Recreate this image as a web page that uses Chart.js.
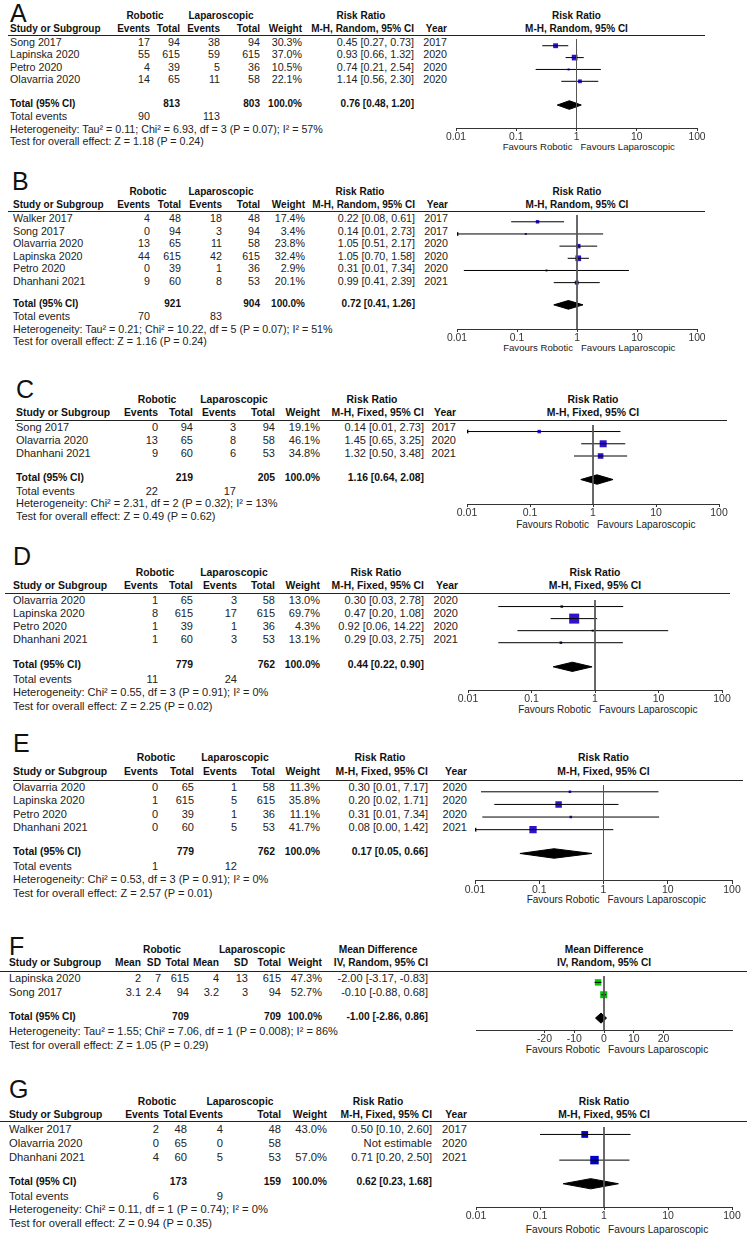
<!DOCTYPE html>
<html>
<head>
<meta charset="utf-8">
<script src="https://cdn.jsdelivr.net/npm/chart.js@4.4.1/dist/chart.umd.min.js"></script>
<style>
  html, body { margin: 0; padding: 0; background: #fff; }
  body { position: relative; width: 747px; height: 1235px; overflow: hidden; font-family: "Liberation Sans", Arial, sans-serif; color: #222; }
  .t { position: absolute; white-space: nowrap; line-height: 12px; }
  .b { font-weight: bold; color: #111; }
  .letter { position: absolute; font-size: 25px; line-height: 26px; color: #111; }
  .hl { position: absolute; height: 1px; background: #222; }
  canvas { position: absolute; }
</style>
</head>
<body>
<script>
// ---- A ----
const studiesA = ['Song 2017', 'Lapinska 2020', 'Petro 2020', 'Olavarria 2020'];
const yearsA = [2017, 2020, 2020, 2020];
const robEventsA = [17, 55, 4, 14];
const robTotalA = [94, 615, 39, 65];
const lapEventsA = [38, 59, 5, 11];
const lapTotalA = [94, 615, 36, 58];
const weightsA = [30.3, 37.0, 10.5, 22.1];
const estA = [0.45, 0.93, 0.74, 1.14];
const loA = [0.27, 0.66, 0.21, 0.56];
const hiA = [0.73, 1.32, 2.54, 2.30];
const pooledA = [0.76, 0.48, 1.20];
const sumsA = [813, 803];
const eventsA = [90, 113];
const hetA = 'Heterogeneity: Tau² = 0.11; Chi² = 6.93, df = 3 (P = 0.07); I² = 57%';
const testA = 'Test for overall effect: Z = 1.18 (P = 0.24)';

// ---- B ----
const studiesB = ['Walker 2017', 'Song 2017', 'Olavarria 2020', 'Lapinska 2020', 'Petro 2020', 'Dhanhani 2021'];
const yearsB = [2017, 2017, 2020, 2020, 2020, 2021];
const robEventsB = [4, 0, 13, 44, 0, 9];
const robTotalB = [48, 94, 65, 615, 39, 60];
const lapEventsB = [18, 3, 11, 42, 1, 8];
const lapTotalB = [48, 94, 58, 615, 36, 53];
const weightsB = [17.4, 3.4, 23.8, 32.4, 2.9, 20.1];
const estB = [0.22, 0.14, 1.05, 1.05, 0.31, 0.99];
const loB = [0.08, 0.0075, 0.51, 0.70, 0.013, 0.41];
const hiB = [0.61, 2.73, 2.17, 1.58, 7.34, 2.39];
const pooledB = [0.72, 0.41, 1.26];
const sumsB = [921, 904];
const eventsB = [70, 83];
const hetB = 'Heterogeneity: Tau² = 0.21; Chi² = 10.22, df = 5 (P = 0.07); I² = 51%';
const testB = 'Test for overall effect: Z = 1.16 (P = 0.24)';

// ---- C ----
const studiesC = ['Song 2017', 'Olavarria 2020', 'Dhanhani 2021'];
const yearsC = [2017, 2020, 2021];
const robEventsC = [0, 13, 9];
const robTotalC = [94, 65, 60];
const lapEventsC = [3, 8, 6];
const lapTotalC = [94, 58, 53];
const weightsC = [19.1, 46.1, 34.8];
const estC = [0.14, 1.45, 1.32];
const loC = [0.0075, 0.65, 0.50];
const hiC = [2.73, 3.25, 3.48];
const pooledC = [1.16, 0.64, 2.08];
const sumsC = [219, 205];
const eventsC = [22, 17];
const hetC = 'Heterogeneity: Chi² = 2.31, df = 2 (P = 0.32); I² = 13%';
const testC = 'Test for overall effect: Z = 0.49 (P = 0.62)';

// ---- D ----
const studiesD = ['Olavarria 2020', 'Lapinska 2020', 'Petro 2020', 'Dhanhani 2021'];
const yearsD = [2020, 2020, 2020, 2021];
const robEventsD = [1, 8, 1, 1];
const robTotalD = [65, 615, 39, 60];
const lapEventsD = [3, 17, 1, 3];
const lapTotalD = [58, 615, 36, 53];
const weightsD = [13.0, 69.7, 4.3, 13.1];
const estD = [0.30, 0.47, 0.92, 0.29];
const loD = [0.03, 0.20, 0.06, 0.03];
const hiD = [2.78, 1.08, 14.22, 2.75];
const pooledD = [0.44, 0.22, 0.90];
const sumsD = [779, 762];
const eventsD = [11, 24];
const hetD = 'Heterogeneity: Chi² = 0.55, df = 3 (P = 0.91); I² = 0%';
const testD = 'Test for overall effect: Z = 2.25 (P = 0.02)';

// ---- E ----
const studiesE = ['Olavarria 2020', 'Lapinska 2020', 'Petro 2020', 'Dhanhani 2021'];
const yearsE = [2020, 2020, 2020, 2021];
const robEventsE = [0, 1, 0, 0];
const robTotalE = [65, 615, 39, 60];
const lapEventsE = [1, 5, 1, 5];
const lapTotalE = [58, 615, 36, 53];
const weightsE = [11.3, 35.8, 11.1, 41.7];
const estE = [0.30, 0.20, 0.31, 0.08];
const loE = [0.0124, 0.02, 0.013, 0.0046];
const hiE = [7.17, 1.71, 7.34, 1.42];
const pooledE = [0.17, 0.05, 0.66];
const sumsE = [779, 762];
const eventsE = [1, 12];
const hetE = 'Heterogeneity: Chi² = 0.53, df = 3 (P = 0.91); I² = 0%';
const testE = 'Test for overall effect: Z = 2.57 (P = 0.01)';

// ---- F (mean difference) ----
const studiesF = ['Lapinska 2020', 'Song 2017'];
const robMeanF = [2, 3.1];
const robSdF = [7, 2.4];
const robTotalF = [615, 94];
const lapMeanF = [4, 3.2];
const lapSdF = [13, 3];
const lapTotalF = [615, 94];
const weightsF = [47.3, 52.7];
const estF = [-2.00, -0.10];
const loF = [-3.17, -0.88];
const hiF = [-0.83, 0.68];
const pooledF = [-1.00, -2.86, 0.86];
const sumsF = [709, 709];
const hetF = 'Heterogeneity: Tau² = 1.55; Chi² = 7.06, df = 1 (P = 0.008); I² = 86%';
const testF = 'Test for overall effect: Z = 1.05 (P = 0.29)';

// ---- G ----
const studiesG = ['Walker 2017', 'Olavarria 2020', 'Dhanhani 2021'];
const yearsG = [2017, 2020, 2021];
const robEventsG = [2, 0, 4];
const robTotalG = [48, 65, 60];
const lapEventsG = [4, 0, 5];
const lapTotalG = [48, 58, 53];
const weightsG = [43.0, null, 57.0];
const estG = [0.50, null, 0.71];
const loG = [0.10, null, 0.20];
const hiG = [2.60, null, 2.50];
const pooledG = [0.62, 0.23, 1.68];
const sumsG = [173, 159];
const eventsG = [6, 9];
const hetG = 'Heterogeneity: Chi² = 0.11, df = 1 (P = 0.74); I² = 0%';
const testG = 'Test for overall effect: Z = 0.94 (P = 0.35)';

// axis ticks
const rrTickValues = [0.01, 0.1, 1, 10, 100];
const rrTickLabels = ['0.01', '0.1', '1', '10', '100'];
const mdTickValues = [-20, -10, 0, 10, 20];
const mdTickLabels = ['-20', '-10', '0', '10', '20'];

const FONT = '"Liberation Sans", Arial, sans-serif';
Chart.defaults.font.family = FONT;

// page positions of each panel (pixels)
const layoutA = { lx: 10, ly: 0, h1: 16, h2: 29, line: 35, lineL: 8, lineR: 705, first: 42, step: 12.4, total: 104, foot: 12.4,
  axis: 128, ax0: 456, ax1: 697, fav: 147, studyX: 10, colR: [150, 180, 220, 260], wR: 302, eR: 414, yR: 447,
  robC: 145, lapC: 221, estC: 361, fs: 10.7, fb: 10, ft: 10.3, ff: 9.6, sq: 5.7, dh: 4.5, color: '#3311cc' };
const layoutB = { lx: 12, ly: 168, h1: 192, h2: 205, line: 211, lineL: 8, lineR: 705, first: 218, step: 12.6, total: 304, foot: 12.4,
  axis: 329, ax0: 457, ax1: 697, fav: 348, studyX: 13, colR: [150, 181, 222, 260], wR: 305, eR: 415, yR: 448,
  robC: 148, lapC: 221, estC: 360, fs: 10.7, fb: 10, ft: 10.3, ff: 9.6, sq: 5.7, dh: 4.5, color: '#3311cc' };
const layoutC = { lx: 16, ly: 376, h1: 400, h2: 413, line: 420, lineL: 15, lineR: 727, first: 427, step: 13, total: 478, foot: 12.7,
  axis: 504, ax0: 467, ax1: 719, fav: 525, studyX: 16, colR: [158, 193, 236, 275], wR: 320, eR: 424, yR: 456,
  robC: 157, lapC: 234, estC: 372, fs: 11, fb: 10.4, ft: 10.5, ff: 10, sq: 7, dh: 5, color: '#3311cc' };
const layoutD = { lx: 13, ly: 543, h1: 573, h2: 586, line: 593, lineL: 5, lineR: 730, first: 600, step: 13, total: 665, foot: 13.5,
  axis: 690, ax0: 468, ax1: 722, fav: 710, studyX: 13, colR: [158, 193, 237, 275], wR: 320, eR: 424, yR: 458,
  robC: 155, lapC: 234, estC: 376, fs: 11, fb: 10.4, ft: 10.5, ff: 10, sq: 10, dh: 5, color: '#3311cc' };
const layoutE = { lx: 13, ly: 730, h1: 758, h2: 772, line: 780, lineL: 13, lineR: 743, first: 787, step: 13.3, total: 852, foot: 13.5,
  axis: 881, ax0: 475, ax1: 732, fav: 900, studyX: 13, colR: [158, 194, 237, 275], wR: 320, eR: 428, yR: 467,
  robC: 156, lapC: 235, estC: 380, fs: 11, fb: 10.4, ft: 10.5, ff: 10, sq: 7.3, dh: 5, color: '#3311cc' };
const layoutF = { lx: 9, ly: 933, h1: 950, h2: 963, line: 971, lineL: 0, lineR: 747, first: 978, step: 13.5, total: 1017, foot: 14,
  axis: 1030, ax0: 476, ax1: 732, xr: 43, fav: 1050, studyX: 9, colR: [141, 161, 189, 219, 248, 281], wR: 322, eR: 428, yR: null,
  robC: 162, lapC: 252, estC: 378, fs: 11, fb: 10.2, ft: 10.5, ff: 10.2, sq: 7, dh: 5.5, color: '#00c800' };
const layoutG = { lx: 9, ly: 1076, h1: 1102, h2: 1115, line: 1121, lineL: 0, lineR: 747, first: 1129, step: 13.8, total: 1182, foot: 13.7,
  axis: 1207, ax0: 476, ax1: 732, fav: 1230, studyX: 9, colR: [159, 187, 223, 281], wR: 327, eR: 432, yR: 467,
  robC: 157, lapC: 240, estC: 378, fs: 11.2, fb: 10.3, ft: 10.5, ff: 10.2, sq: 8.5, dh: 5.5, color: '#0000cc' };

const rrHeads = ['Events', 'Total', 'Events', 'Total'];
const mdHeads = ['Mean', 'SD', 'Total', 'Mean', 'SD', 'Total'];

const panels = [
  { key: 'A', L: layoutA, studies: studiesA, years: yearsA, cols: [robEventsA, robTotalA, lapEventsA, lapTotalA], heads: rrHeads, totIdx: [1, 3],
    weights: weightsA, est: estA, lo: loA, hi: hiA, pooled: pooledA, sums: sumsA, events: eventsA, het: hetA, test: testA,
    measure: 'Risk Ratio', method: 'M-H, Random, 95% CI' },
  { key: 'B', L: layoutB, studies: studiesB, years: yearsB, cols: [robEventsB, robTotalB, lapEventsB, lapTotalB], heads: rrHeads, totIdx: [1, 3],
    weights: weightsB, est: estB, lo: loB, hi: hiB, pooled: pooledB, sums: sumsB, events: eventsB, het: hetB, test: testB,
    measure: 'Risk Ratio', method: 'M-H, Random, 95% CI' },
  { key: 'C', L: layoutC, studies: studiesC, years: yearsC, cols: [robEventsC, robTotalC, lapEventsC, lapTotalC], heads: rrHeads, totIdx: [1, 3],
    weights: weightsC, est: estC, lo: loC, hi: hiC, pooled: pooledC, sums: sumsC, events: eventsC, het: hetC, test: testC,
    measure: 'Risk Ratio', method: 'M-H, Fixed, 95% CI' },
  { key: 'D', L: layoutD, studies: studiesD, years: yearsD, cols: [robEventsD, robTotalD, lapEventsD, lapTotalD], heads: rrHeads, totIdx: [1, 3],
    weights: weightsD, est: estD, lo: loD, hi: hiD, pooled: pooledD, sums: sumsD, events: eventsD, het: hetD, test: testD,
    measure: 'Risk Ratio', method: 'M-H, Fixed, 95% CI' },
  { key: 'E', L: layoutE, studies: studiesE, years: yearsE, cols: [robEventsE, robTotalE, lapEventsE, lapTotalE], heads: rrHeads, totIdx: [1, 3],
    weights: weightsE, est: estE, lo: loE, hi: hiE, pooled: pooledE, sums: sumsE, events: eventsE, het: hetE, test: testE,
    measure: 'Risk Ratio', method: 'M-H, Fixed, 95% CI' },
  { key: 'F', L: layoutF, studies: studiesF, years: null, cols: [robMeanF, robSdF, robTotalF, lapMeanF, lapSdF, lapTotalF], heads: mdHeads, totIdx: [2, 5],
    weights: weightsF, est: estF, lo: loF, hi: hiF, pooled: pooledF, sums: sumsF, events: null, het: hetF, test: testF,
    measure: 'Mean Difference', method: 'IV, Random, 95% CI', md: true },
  { key: 'G', L: layoutG, studies: studiesG, years: yearsG, cols: [robEventsG, robTotalG, lapEventsG, lapTotalG], heads: rrHeads, totIdx: [1, 3],
    weights: weightsG, est: estG, lo: loG, hi: hiG, pooled: pooledG, sums: sumsG, events: eventsG, het: hetG, test: testG,
    measure: 'Risk Ratio', method: 'M-H, Fixed, 95% CI' }
];

function ciText(e, l, h) {
  return e.toFixed(2) + ' [' + l.toFixed(2) + ', ' + h.toFixed(2) + ']';
}

// text placed with its middle at y; align l / r / c about x
function put(text, x, y, align, size, bold) {
  const d = document.createElement('div');
  d.className = 't' + (bold ? ' b' : '');
  d.textContent = text;
  d.style.fontSize = size + 'px';
  d.style.top = (y - 6) + 'px';
  if (align === 'r') {
    d.style.left = (x - 300) + 'px'; d.style.width = '300px'; d.style.textAlign = 'right';
  } else if (align === 'c') {
    d.style.left = (x - 150) + 'px'; d.style.width = '300px'; d.style.textAlign = 'center';
  } else {
    d.style.left = x + 'px';
  }
  document.body.appendChild(d);
}

function drawTable(p) {
  const L = p.L;
  const vx = (L.ax0 + L.ax1) / 2;
  const letter = document.createElement('div');
  letter.className = 'letter';
  letter.textContent = p.key;
  letter.style.left = L.lx + 'px';
  letter.style.top = L.ly + 'px';
  document.body.appendChild(letter);

  put('Robotic', L.robC, L.h1, 'c', L.fb, true);
  put('Laparoscopic', L.lapC, L.h1, 'c', L.fb, true);
  put(p.measure, L.estC, L.h1, 'c', L.fb, true);
  put(p.measure, vx, L.h1, 'c', L.fb, true);

  put('Study or Subgroup', L.studyX, L.h2, 'l', L.fb, true);
  p.heads.forEach((h, j) => put(h, L.colR[j], L.h2, 'r', L.fb, true));
  put('Weight', L.wR, L.h2, 'r', L.fb, true);
  put(p.method, L.eR, L.h2, 'r', L.fb, true);
  if (p.years) put('Year', L.yR, L.h2, 'r', L.fb, true);
  put(p.method, vx, L.h2, 'c', L.fb, true);

  const hl = document.createElement('div');
  hl.className = 'hl';
  hl.style.left = L.lineL + 'px';
  hl.style.width = (L.lineR - L.lineL) + 'px';
  hl.style.top = L.line + 'px';
  document.body.appendChild(hl);

  p.studies.forEach((s, i) => {
    const y = L.first + i * L.step;
    put(s, L.studyX, y, 'l', L.fs);
    p.cols.forEach((arr, j) => put(String(arr[i]), L.colR[j], y, 'r', L.fs));
    if (p.weights[i] !== null) put(p.weights[i].toFixed(1) + '%', L.wR, y, 'r', L.fs);
    put(p.est[i] === null ? 'Not estimable' : ciText(p.est[i], p.lo[i], p.hi[i]), L.eR, y, 'r', L.fs);
    if (p.years) put(String(p.years[i]), L.yR, y, 'r', L.fs);
  });

  put('Total (95% CI)', L.studyX, L.total, 'l', L.fb, true);
  put(String(p.sums[0]), L.colR[p.totIdx[0]], L.total, 'r', L.fb, true);
  put(String(p.sums[1]), L.colR[p.totIdx[1]], L.total, 'r', L.fb, true);
  put('100.0%', L.wR, L.total, 'r', L.fb, true);
  put(ciText(p.pooled[0], p.pooled[1], p.pooled[2]), L.eR, L.total, 'r', L.fb, true);

  let y = L.total + L.foot;
  if (p.events) {
    put('Total events', L.studyX, y, 'l', L.fs);
    put(String(p.events[0]), L.colR[0], y, 'r', L.fs);
    put(String(p.events[1]), L.colR[2], y, 'r', L.fs);
    y += L.foot;
  }
  put(p.het, L.studyX, y, 'l', L.fs);
  put(p.test, L.studyX, y + L.foot, 'l', L.fs);

  put('Favours Robotic', vx - 4, L.fav, 'r', L.ff);
  put('Favours Laparoscopic', vx + 4, L.fav, 'l', L.ff);
}

function drawPlot(p) {
  const L = p.L;
  const pad = 18;
  const axisH = 16;
  const w = L.ax1 - L.ax0 + 2 * pad;
  const h = L.axis - L.line + axisH;
  const cv = document.createElement('canvas');
  cv.width = w; cv.height = h;
  cv.style.left = (L.ax0 - pad) + 'px';
  cv.style.top = L.line + 'px';
  cv.style.width = w + 'px';
  cv.style.height = h + 'px';
  document.body.appendChild(cv);

  const isLog = !p.md;
  const xmin = isLog ? 0.01 : -L.xr;
  const xmax = isLog ? 100 : L.xr;
  const ref = isLog ? 1 : 0;
  const tickVals = isLog ? rrTickValues : mdTickValues;
  const tickLabs = isLog ? rrTickLabels : mdTickLabels;
  const yTop = (L.line - L.first) / L.step;
  const yBot = (L.axis - L.first) / L.step;
  const yTot = (L.total - L.first) / L.step;
  const dh = L.dh / L.step;
  const clampX = v => Math.min(xmax, Math.max(xmin, v));

  const datasets = [];
  // line of no effect
  datasets.push({ data: [{ x: ref, y: yTop }, { x: ref, y: yBot }], showLine: true,
    borderColor: '#555', borderWidth: 1, pointRadius: 0 });

  // confidence intervals
  p.est.forEach((e, i) => {
    if (e === null) return;
    datasets.push({ data: [{ x: clampX(p.lo[i]), y: i }, { x: clampX(p.hi[i]), y: i }], showLine: true,
      borderColor: '#000', borderWidth: 1, pointRadius: 0 });
  });

  // arrows where the interval runs off the axis
  const arrows = [];
  p.est.forEach((e, i) => {
    if (e !== null && p.lo[i] < xmin) arrows.push({ x: xmin, y: i });
  });
  if (arrows.length) {
    datasets.push({ data: arrows, pointStyle: 'triangle', rotation: -90, pointRadius: 2.6,
      backgroundColor: '#000', borderColor: '#000', borderWidth: 0 });
  }

  // study squares, size by weight
  const wMax = Math.max(...p.weights.filter(v => v !== null));
  const pts = [], rad = [];
  p.est.forEach((e, i) => {
    if (e === null) return;
    pts.push({ x: e, y: i });
    const side = Math.max(2, L.sq * Math.pow(p.weights[i] / wMax, 0.8));
    rad.push(side / Math.SQRT2);
  });
  datasets.push({ data: pts, pointStyle: 'rect', pointRadius: rad, backgroundColor: L.color,
    borderColor: L.color, borderWidth: 0 });

  // pooled diamond
  const pe = p.pooled;
  datasets.push({ data: [{ x: pe[1], y: yTot }, { x: pe[0], y: yTot - dh }, { x: pe[2], y: yTot },
      { x: pe[0], y: yTot + dh }, { x: pe[1], y: yTot }],
    showLine: true, fill: 'shape', backgroundColor: '#000', borderColor: '#000', borderWidth: 1, pointRadius: 0 });

  new Chart(cv, {
    type: 'scatter',
    data: { datasets: datasets },
    options: {
      responsive: false,
      animation: false,
      events: [],
      layout: { padding: { left: pad, right: pad, top: 0, bottom: 0 } },
      plugins: { legend: { display: false }, tooltip: { enabled: false } },
      scales: {
        x: {
          type: isLog ? 'logarithmic' : 'linear',
          min: xmin, max: xmax, position: 'bottom',
          afterBuildTicks: s => { s.ticks = tickVals.map(v => ({ value: v })); },
          afterFit: s => { s.height = axisH; },
          ticks: { autoSkip: false, maxRotation: 0, padding: 0, color: '#333',
            font: { family: FONT, size: L.ft }, callback: (v, i) => tickLabs[i] },
          grid: { drawOnChartArea: false, drawTicks: true, tickLength: 3, color: '#333' },
          border: { display: true, color: '#333', width: 1 }
        },
        y: { type: 'linear', display: false, min: yTop, max: yBot, reverse: true }
      }
    }
  });
}

panels.forEach(p => { drawTable(p); drawPlot(p); });
</script>
</body>
</html>
